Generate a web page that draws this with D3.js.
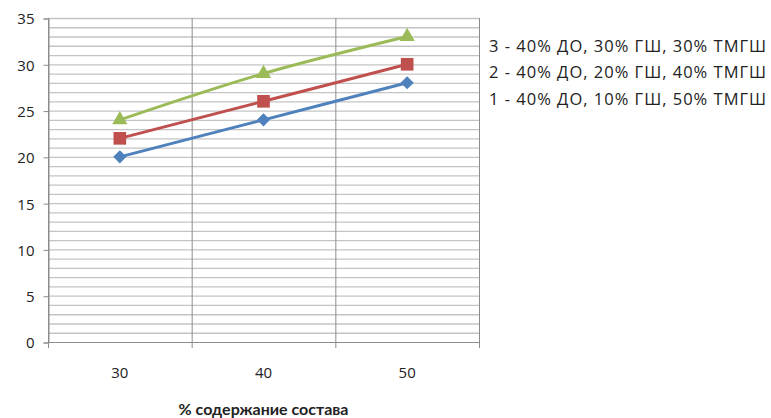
<!DOCTYPE html>
<html>
<head>
<meta charset="utf-8">
<script src="https://cdn.jsdelivr.net/npm/d3@7"></script>
<style>
  html, body { margin: 0; padding: 0; background: #fff; }
  svg { display: block; }
  text { font-family: "Open Sans", Lato, "Liberation Sans", sans-serif; fill: #222; }
</style>
</head>
<body>
<svg id="chart" width="771" height="418"></svg>
<script>
// Categories (% content) and series values
const categories = ["30", "40", "50"];
const series1 = [20, 24, 28];
const series2 = [22, 26, 30];
const series3 = [24, 29, 33];
const seriesNames = [
  "1 - 40% ДО, 10% ГШ, 50% ТМГШ",
  "2 - 40% ДО, 20% ГШ, 40% ТМГШ",
  "3 - 40% ДО, 30% ГШ, 30% ТМГШ"
];
const yTicks = [0, 5, 10, 15, 20, 25, 30, 35];
const xTitle = "% содержание состава";

const svg = d3.select("#chart");
const plot = { left: 48, right: 479, top: 18, bottom: 342 };

const x = d3.scaleBand().domain(categories).range([plot.left, plot.right]);
const y = d3.scaleLinear().domain([0, 35]).range([plot.bottom, plot.top]);

// Minor horizontal gridlines every unit
const g = svg.append("g");
g.selectAll("line.hgrid")
  .data(d3.range(1, 36))
  .join("line")
  .attr("x1", plot.left).attr("x2", plot.right)
  .attr("y1", d => y(d) + 0.5).attr("y2", d => y(d) + 0.5)
  .attr("stroke", "#c4c4c4").attr("stroke-width", 1.3);

// Vertical gridlines at category boundaries
const bounds = categories.map(c => x(c)).concat([plot.right]);
g.selectAll("line.vgrid")
  .data(bounds)
  .join("line")
  .attr("x1", d => d + 0.5).attr("x2", d => d + 0.5)
  .attr("y1", plot.top).attr("y2", plot.bottom + 6)
  .attr("stroke", "#8c8c8c").attr("stroke-width", 1);

// Y axis
const yAxis = d3.axisLeft(y).tickValues(yTicks).tickSize(5).tickPadding(9);
const ya = svg.append("g").attr("transform", `translate(${plot.left + 0.5},0.5)`).call(yAxis);
ya.select(".domain").attr("stroke", "#8c8c8c");
ya.selectAll(".tick line").attr("stroke", "#8c8c8c");
ya.selectAll(".tick text")
  .style("font-family", "'Open Sans', sans-serif")
  .style("font-size", "15px").attr("fill", "#222").attr("dy", "0.36em");

// X axis line
svg.append("line")
  .attr("x1", plot.left).attr("x2", plot.right + 1)
  .attr("y1", plot.bottom + 0.5).attr("y2", plot.bottom + 0.5)
  .attr("stroke", "#8c8c8c");

// X category labels
svg.selectAll("text.xlab")
  .data(categories)
  .join("text")
  .attr("x", d => x(d) + x.bandwidth() / 2)
  .attr("y", 378)
  .attr("text-anchor", "middle")
  .style("font-size", "15px")
  .text(d => d);

// X axis title
svg.append("text")
  .attr("x", (plot.left + plot.right) / 2)
  .attr("y", 415)
  .attr("text-anchor", "middle")
  .style("font-family", "Lato, sans-serif")
  .style("font-size", "16px")
  .style("font-weight", "bold")
  .text(xTitle);

// Series lines and markers
const allSeries = [
  { values: series1, color: "#4f81bd", symbol: d3.symbolDiamond2, size: 110 },
  { values: series2, color: "#c0504d", symbol: d3.symbolSquare, size: 160 },
  { values: series3, color: "#9bbb59", symbol: d3.symbolTriangle, size: 100 }
];

const cx = c => x(c) + x.bandwidth() / 2;
const line = d3.line()
  .x((d, i) => cx(categories[i]))
  .y(d => y(d))
  .curve(d3.curveCatmullRom.alpha(0.5));

allSeries.forEach(s => {
  svg.append("path")
    .datum(s.values)
    .attr("d", line)
    .attr("fill", "none")
    .attr("stroke", s.color)
    .attr("stroke-width", 3);
  svg.selectAll(null)
    .data(s.values)
    .join("path")
    .attr("transform", (d, i) => `translate(${cx(categories[i])},${y(d)})`)
    .attr("d", d3.symbol(s.symbol, s.size))
    .attr("fill", s.color);
});

// Legend (text only), top entry is series 3
const legendY = [46, 72, 99];
svg.selectAll("text.leg")
  .data(seriesNames.slice().reverse())
  .join("text")
  .attr("x", 489)
  .attr("y", (d, i) => legendY[i])
  .attr("dy", "0.35em")
  .style("font-size", "16.5px")
  .style("letter-spacing", "1px")
  .text(d => d);
</script>
</body>
</html>
